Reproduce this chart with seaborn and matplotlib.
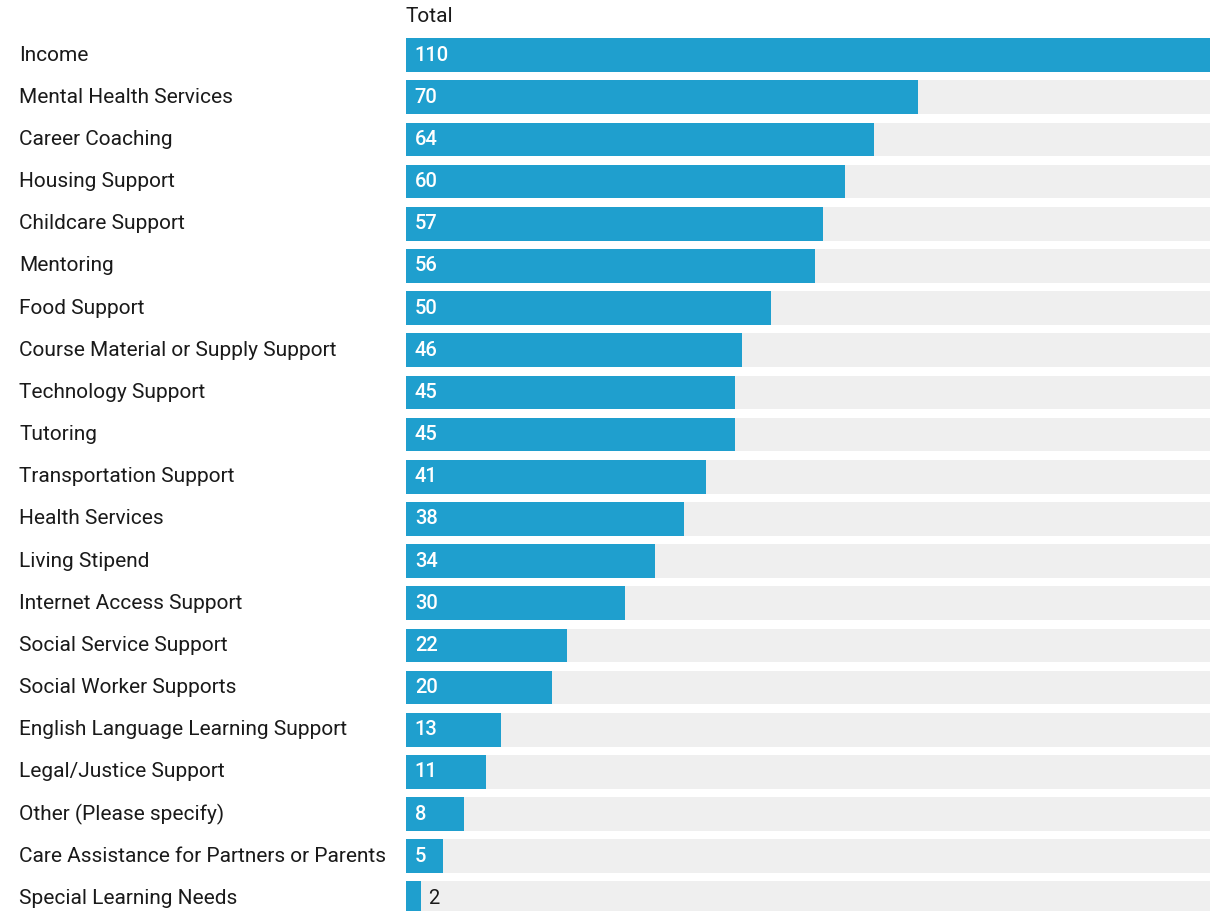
import pandas as pd
import numpy as np
from matplotlib import pyplot as plt
from matplotlib import transforms
import seaborn as sns

categories = ['Income', 'Mental Health Services', 'Career Coaching', 'Housing Support',
              'Childcare Support', 'Mentoring', 'Food Support',
              'Course Material or Supply Support', 'Technology Support', 'Tutoring',
              'Transportation Support', 'Health Services', 'Living Stipend',
              'Internet Access Support', 'Social Service Support', 'Social Worker Supports',
              'English Language Learning Support', 'Legal/Justice Support',
              'Other (Please specify)', 'Care Assistance for Partners or Parents',
              'Special Learning Needs']
totals = [110, 70, 64, 60, 57, 56, 50, 46, 45, 45, 41, 38, 34, 30, 22, 20, 13, 11, 8, 5, 2]
max_total = 110

BLUE = '#1f9fce'
GRAY = '#efefef'
TEXT = '#1a1a1a'


def main():
    sns.set_style('white')
    plt.rcParams['font.family'] = ['Roboto', 'DejaVu Sans']

    df = pd.DataFrame({'category': categories, 'total': totals})
    df['full'] = max_total

    W, H = 1213, 911
    fig = plt.figure(figsize=(W / 100, H / 100), dpi=100)
    ax = fig.add_axes([406 / W, 0, 804 / W, 874 / H])

    sns.barplot(data=df, x='full', y='category', color=GRAY, width=0.8,
                saturation=1, ax=ax, orient='h', linewidth=0)
    sns.barplot(data=df, x='total', y='category', color=BLUE, width=0.8,
                saturation=1, ax=ax, orient='h', linewidth=0)

    ax.set_xlim(0, max_total)
    ax.set_ylim(20.30, -0.43)
    ax.axis('off')

    # values inside the bars (outside when the bar is too short)
    for i, v in enumerate(totals):
        if v >= 5:
            ax.text(1.2, i, str(v), color='white', fontsize=14.5, fontweight='medium',
                    va='center', ha='left')
        else:
            ax.text(v + 1.0, i, str(v), color=TEXT, fontsize=14.5,
                    va='center', ha='left')

    # category labels on the far left
    trans = transforms.blended_transform_factory(fig.transFigure, ax.transData)
    for i, c in enumerate(categories):
        fig.text(19 / W, i, c, transform=trans, fontsize=15, color=TEXT,
                 va='center', ha='left')

    fig.text(406 / W, 1 - 16 / H, 'Total', fontsize=15, color=TEXT,
             va='center', ha='left')

    fig.savefig('out.png', dpi=100)


if __name__ == '__main__':
    main()
